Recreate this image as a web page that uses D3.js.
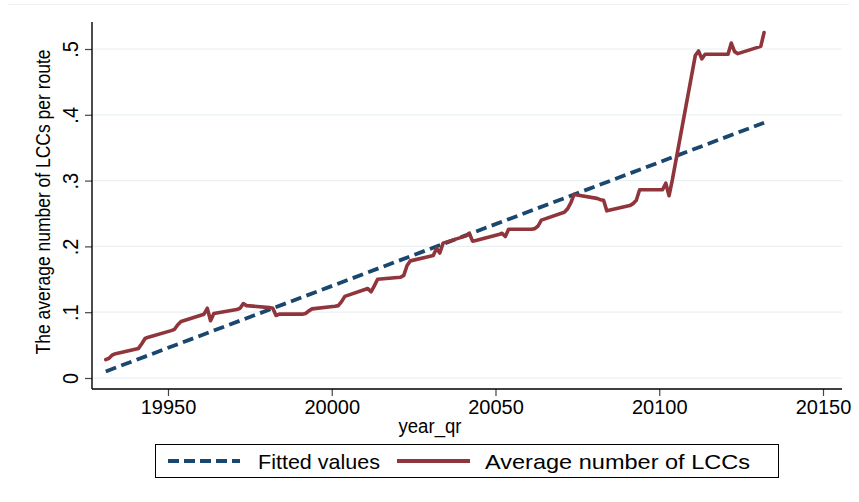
<!DOCTYPE html>
<html>
<head>
<meta charset="utf-8">
<script src="https://cdn.jsdelivr.net/npm/d3@7"></script>
<style>
  html, body { margin: 0; padding: 0; background: #ffffff; }
  svg { display: block; font-family: "Liberation Sans", Arial, Helvetica, sans-serif; }
</style>
</head>
<body>
<svg id="chart" width="859" height="502"></svg>
<script>
// ---- data ----
const yearQr = [
  19931, 19932, 19933, 19934,
  19941, 19942, 19943, 19944,
  19951, 19952, 19953, 19954,
  19961, 19962, 19963, 19964,
  19971, 19972, 19973, 19974,
  19981, 19982, 19983, 19984,
  19991, 19992, 19993, 19994,
  20001, 20002, 20003, 20004,
  20011, 20012, 20013, 20014,
  20021, 20022, 20023, 20024,
  20031, 20032, 20033, 20034,
  20041, 20042, 20043, 20044,
  20051, 20052, 20053, 20054,
  20061, 20062, 20063, 20064,
  20071, 20072, 20073, 20074,
  20081, 20082, 20083, 20084,
  20091, 20092, 20093, 20094,
  20101, 20102, 20103, 20104,
  20111, 20112, 20113, 20114,
  20121, 20122, 20123, 20124,
  20131, 20132
];
const avgLCC = [
  0.028, 0.030, 0.035, 0.037,
  0.045, 0.052, 0.060, 0.062,
  0.072, 0.074, 0.081, 0.086,
  0.097, 0.106, 0.087, 0.098,
  0.104, 0.106, 0.113, 0.110,
  0.107, 0.106, 0.095, 0.097,
  0.097, 0.098, 0.102, 0.105,
  0.109, 0.110, 0.116, 0.124,
  0.136, 0.131, 0.140, 0.150,
  0.153, 0.156, 0.171, 0.178,
  0.186, 0.197, 0.190, 0.205,
  0.216, 0.220, 0.208, 0.209,
  0.218, 0.220, 0.215, 0.226,
  0.226, 0.227, 0.231, 0.240,
  0.252, 0.257, 0.266, 0.279,
  0.273, 0.271, 0.270, 0.254,
  0.262, 0.265, 0.270, 0.286,
  0.286, 0.296, 0.277, 0.301,
  0.490, 0.497, 0.485, 0.492,
  0.492, 0.509, 0.496, 0.493,
  0.504, 0.525
];
const fittedX = [19931, 20132];
const fittedY = [0.010, 0.388];
const xTicks = [19950, 20000, 20050, 20100, 20150];
const yTicks = [0, 0.1, 0.2, 0.3, 0.4, 0.5];
const yTickLabels = ["0", ".1", ".2", ".3", ".4", ".5"];
const legendLabels = ["Fitted values", "Average number of LCCs"];

// ---- layout ----
const svg = d3.select("#chart");
const pLeft = 92, pRight = 842, pTop = 22, pBottom = 389;
const navy = "#1a476f", maroon = "#90353b";

const x = d3.scaleLinear().domain([19926.8, 20155.8]).range([pLeft, pRight]);
const y = d3.scaleLinear().domain([0, 0.5]).range([378, 49]);

// faint outer border line
svg.append("line").attr("x1", 8).attr("x2", 849).attr("y1", 4.5).attr("y2", 4.5)
  .attr("stroke", "#eef1f2").attr("stroke-width", 1);

// gridlines
svg.append("g").selectAll("line").data(yTicks).join("line")
  .attr("x1", pLeft).attr("x2", pRight)
  .attr("y1", d => y(d)).attr("y2", d => y(d))
  .attr("stroke", "#eaf0f2").attr("stroke-width", 1.2);

// y axis
const yAxis = d3.axisLeft(y).tickValues(yTicks).tickSize(7).tickFormat((d, i) => yTickLabels[i]);
const gy = svg.append("g").attr("transform", `translate(${pLeft},0)`).call(yAxis);
gy.select(".domain").remove();
gy.selectAll(".tick line").attr("stroke", "#444").attr("stroke-width", 1.2);
gy.selectAll(".tick text")
  .attr("font-size", 20).attr("fill", "#000")
  .attr("text-anchor", "middle")
  .attr("transform", "rotate(-90) scale(1,1.08)")
  .attr("x", 0).attr("y", -13).attr("dy", 0);

svg.append("line").attr("x1", pLeft).attr("x2", pLeft).attr("y1", pTop).attr("y2", pBottom)
  .attr("stroke", "#000").attr("stroke-width", 1.4);

// x axis
const xAxis = d3.axisBottom(x).tickValues(xTicks).tickSize(7).tickFormat(d3.format("d"));
const gx = svg.append("g").attr("transform", `translate(0,${pBottom})`).call(xAxis);
gx.select(".domain").remove();
gx.selectAll(".tick line").attr("stroke", "#444").attr("stroke-width", 1.2);
gx.selectAll(".tick text").attr("font-size", 20).attr("fill", "#000").attr("y", 11).attr("dy", "0.71em");

svg.append("line").attr("x1", pLeft).attr("x2", pRight).attr("y1", pBottom).attr("y2", pBottom)
  .attr("stroke", "#000").attr("stroke-width", 1.4);

// titles
svg.append("text").attr("x", 430).attr("y", 433).attr("text-anchor", "middle")
  .attr("font-size", 20).attr("textLength", 63).attr("lengthAdjust", "spacingAndGlyphs")
  .text("year_qr");
svg.append("text").attr("transform", `translate(50,202) rotate(-90) scale(1,1.1)`).attr("text-anchor", "middle")
  .attr("font-size", 18).attr("textLength", 305).attr("lengthAdjust", "spacingAndGlyphs")
  .text("The average number of LCCs per route");

// fitted line
const line = d3.line().x(d => x(d[0])).y(d => y(d[1]));
svg.append("path").datum(fittedX.map((d, i) => [d, fittedY[i]]))
  .attr("d", line).attr("fill", "none").attr("stroke", navy)
  .attr("stroke-width", 3.8).attr("stroke-dasharray", "11,5.5");

// average line
svg.append("path").datum(yearQr.map((d, i) => [d, avgLCC[i]]))
  .attr("d", line).attr("fill", "none").attr("stroke", maroon)
  .attr("stroke-width", 3.6).attr("stroke-linejoin", "round").attr("stroke-linecap", "round");

// legend
const lg = svg.append("g");
lg.append("rect").attr("x", 155.5).attr("y", 444.5).attr("width", 623).attr("height", 33)
  .attr("fill", "#fff").attr("stroke", "#000").attr("stroke-width", 1);
lg.append("line").attr("x1", 168).attr("x2", 240).attr("y1", 461).attr("y2", 461)
  .attr("stroke", navy).attr("stroke-width", 3.8).attr("stroke-dasharray", "11,5");
lg.append("text").attr("x", 258).attr("y", 469).attr("font-size", 21)
  .attr("textLength", 122).attr("lengthAdjust", "spacingAndGlyphs").text(legendLabels[0]);
lg.append("line").attr("x1", 397).attr("x2", 470).attr("y1", 461).attr("y2", 461)
  .attr("stroke", maroon).attr("stroke-width", 3.8);
lg.append("text").attr("x", 485).attr("y", 469).attr("font-size", 21)
  .attr("textLength", 265).attr("lengthAdjust", "spacingAndGlyphs").text(legendLabels[1]);
</script>
</body>
</html>
